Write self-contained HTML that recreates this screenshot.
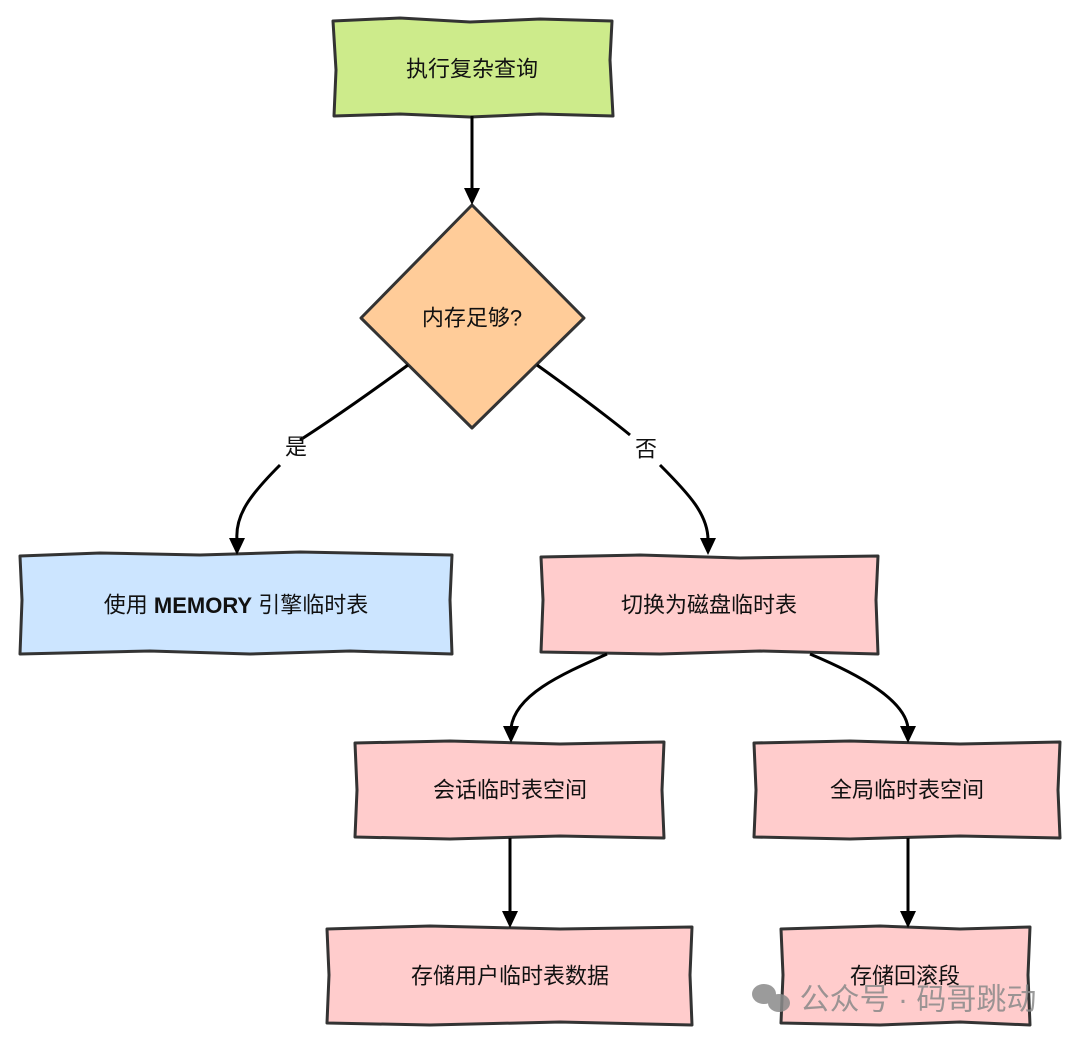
<!DOCTYPE html>
<html><head><meta charset="utf-8"><style>
html,body{margin:0;padding:0;background:#fff;}
svg{display:block}
text{font-family:"Liberation Sans","Noto Sans CJK SC",sans-serif;font-size:22px;fill:#111;text-anchor:middle;dominant-baseline:central}
</style></head><body>
<svg width="1080" height="1044" viewBox="0 0 1080 1044" xmlns="http://www.w3.org/2000/svg">
<g stroke="#333" stroke-width="3" stroke-linejoin="round">
<path d="M333,21 L400,18 L470,22 L540,19 L612,21 L610,60 L613,116 L540,114 L470,117 L400,114 L334,116 L336,70 Z" fill="#cdeb8b"/>
<path d="M472,205 L584,318 L472,428 L361,318 Z" fill="#ffcc99"/>
<path d="M20,556 L100,553 L200,555 L300,552 L452,555 L450,600 L452,654 L350,651 L250,654 L150,651 L20,654 L22,600 Z" fill="#cce5ff"/>
<path d="M541,557 L640,555 L740,558 L878,556 L876,600 L878,654 L760,651 L660,654 L541,652 L543,600 Z" fill="#ffcccc"/>
<path d="M355,743 L450,741 L560,744 L664,742 L662,790 L664,838 L560,836 L450,839 L355,837 L357,790 Z" fill="#ffcccc"/>
<path d="M754,743 L850,741 L960,744 L1060,742 L1058,790 L1060,838 L960,836 L850,839 L754,837 L756,790 Z" fill="#ffcccc"/>
<path d="M327,929 L430,926 L560,929 L692,927 L690,975 L692,1025 L560,1022 L430,1025 L327,1023 L329,975 Z" fill="#ffcccc"/>
<path d="M781,929 L880,926 L960,929 L1030,927 L1028,975 L1030,1025 L960,1022 L880,1025 L781,1023 L783,975 Z" fill="#ffcccc"/>
</g>
<g stroke="#000" stroke-width="3" fill="none">
<path d="M472,116 L472,190"/>
<path d="M408,365 C340,415 300,440 300,440 M280,465 C250,495 235,515 237,540"/>
<path d="M537,365 C600,410 630,435 630,435 M660,465 C690,495 708,515 708,540"/>
<path d="M607,654 C560,675 515,695 511,728"/>
<path d="M810,654 C860,675 905,700 908,728"/>
<path d="M510,838 L510,912"/>
<path d="M908,838 L908,912"/>
</g>
<g fill="#000">
<path d="M464,188 L480,188 L472,205 Z"/>
<path d="M229,538 L245,538 L237,555 Z"/>
<path d="M700,538 L716,538 L708,555 Z"/>
<path d="M503,726 L519,726 L511,743 Z"/>
<path d="M900,726 L916,726 L908,743 Z"/>
<path d="M502,911 L518,911 L510,928 Z"/>
<path d="M900,911 L916,911 L908,928 Z"/>
</g>
<text x="472" y="69">执行复杂查询</text>
<text x="472" y="318">内存足够?</text>
<text x="296" y="447">是</text>
<text x="646" y="449">否</text>
<text x="236" y="605">使用 <tspan font-weight="bold">MEMORY</tspan> 引擎临时表</text>
<text x="709" y="605">切换为磁盘临时表</text>
<text x="510" y="790">会话临时表空间</text>
<text x="907" y="790">全局临时表空间</text>
<text x="510" y="976">存储用户临时表数据</text>
<text x="905" y="976">存储回滚段</text>
<g fill="#8a8a8a" opacity="0.85">
<ellipse cx="764" cy="994" rx="12" ry="10"/>
<ellipse cx="779" cy="1003" rx="11" ry="9"/>
<text x="918" y="1000" style="fill:#8a8a8a;font-size:30px">公众号 · 码哥跳动</text>
</g>
</svg>
</body></html>
